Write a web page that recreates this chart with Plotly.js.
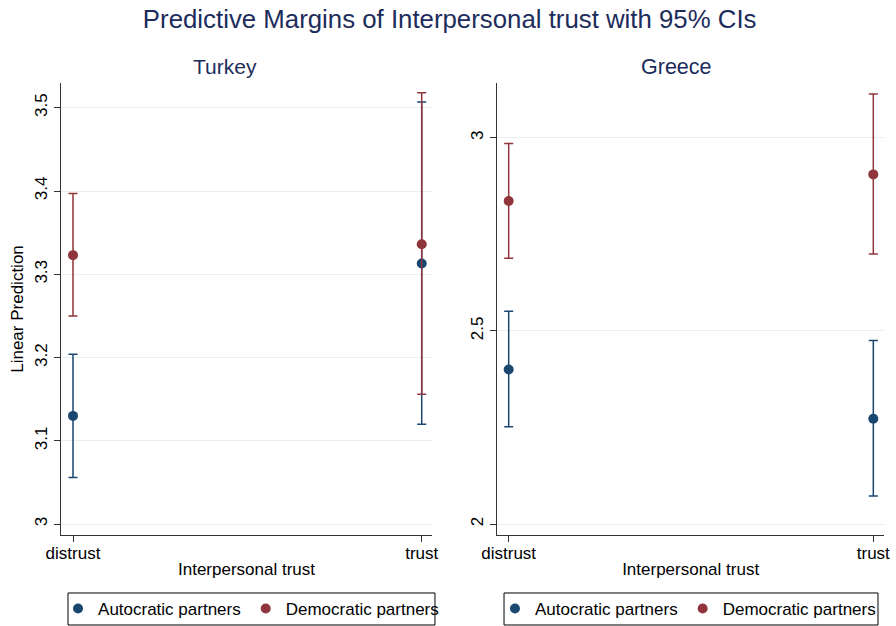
<!DOCTYPE html>
<html>
<head>
<meta charset="utf-8">
<script src="https://cdn.plot.ly/plotly-3.0.1.min.js"></script>
<style>html,body{margin:0;padding:0;background:#fff;}#chart{width:896px;height:626px;}</style>
</head>
<body>
<div id="chart"></div>
<script>
// Categories (x axis)
const categories = ["distrust", "trust"];
const xPos = [0, 1];
const seriesNames = ["Autocratic partners", "Democratic partners"];

// Turkey
const turkeyAutoMean  = [3.130, 3.313];
const turkeyAutoLower = [3.056, 3.120];
const turkeyAutoUpper = [3.204, 3.507];
const turkeyDemMean   = [3.323, 3.336];
const turkeyDemLower  = [3.250, 3.156];
const turkeyDemUpper  = [3.397, 3.518];

// Greece
const greeceAutoMean  = [2.400, 2.273];
const greeceAutoLower = [2.252, 2.073];
const greeceAutoUpper = [2.551, 2.475];
const greeceDemMean   = [2.836, 2.905];
const greeceDemLower  = [2.688, 2.699];
const greeceDemUpper  = [2.985, 3.113];

// Tick values
const turkeyTicks = [3, 3.1, 3.2, 3.3, 3.4, 3.5];
const turkeyTickText = ["3", "3.1", "3.2", "3.3", "3.4", "3.5"];
const greeceTicks = [2, 2.5, 3];
const greeceTickText = ["2", "2.5", "3"];

const NAVY = "#1a476f";
const MAROON = "#90353b";
const TITLE_COLOR = "#1c2c5b";
const FONT = "Liberation Sans, Arial, sans-serif";

function mk(mean, lo, hi, name, color, xa, ya, legend) {
  return {
    type: "scatter", mode: "markers",
    x: xPos, y: mean, name: name,
    xaxis: xa, yaxis: ya, legend: legend,
    marker: {color: color, size: 10},
    error_y: {
      type: "data", symmetric: false,
      array: hi.map((v, i) => v - mean[i]),
      arrayminus: mean.map((v, i) => v - lo[i]),
      color: color, thickness: 1.5, width: 4.5
    },
    hoverinfo: "x+y"
  };
}

const data = [
  mk(turkeyAutoMean, turkeyAutoLower, turkeyAutoUpper, seriesNames[0], NAVY, "x", "y", "legend"),
  mk(turkeyDemMean, turkeyDemLower, turkeyDemUpper, seriesNames[1], MAROON, "x", "y", "legend"),
  mk(greeceAutoMean, greeceAutoLower, greeceAutoUpper, seriesNames[0], NAVY, "x2", "y2", "legend2"),
  mk(greeceDemMean, greeceDemLower, greeceDemUpper, seriesNames[1], MAROON, "x2", "y2", "legend2")
];

const axisCommon = {
  showline: true, linecolor: "#333", linewidth: 1, mirror: false,
  ticks: "outside", ticklen: 6, tickcolor: "#333", tickwidth: 1,
  zeroline: false, automargin: false,
  tickfont: {family: FONT, size: 17, color: "#000"}
};

const legendCommon = {
  orientation: "h", xanchor: "left", y: -0.1637, yanchor: "middle",
  borderwidth: 0, bgcolor: "rgba(0,0,0,0)",
  font: {family: FONT, size: 17, color: "#000"}
};

const layout = {
  width: 896, height: 626,
  paper_bgcolor: "#fff", plot_bgcolor: "#fff",
  font: {family: FONT, size: 17, color: "#000"},
  margin: {l: 61, r: 12, t: 83, b: 91, autoexpand: false},
  title: {
    text: "Predictive Margins of Interpersonal trust with 95% CIs",
    font: {family: FONT, size: 25.8, color: TITLE_COLOR},
    x: 449.7 / 896, xref: "container", xanchor: "center", y: 1 - 18.5 / 626, yref: "container", yanchor: "middle"
  },
  xaxis: Object.assign({}, axisCommon, {
    domain: [0, 0.4508], range: [-0.0344, 1.0295],
    tickvals: xPos, ticktext: categories, showgrid: false, ticklabelstandoff: -3,
    title: {text: "Interpersonal trust", font: {family: FONT, size: 17, color: "#000"}, standoff: 0}
  }),
  yaxis: Object.assign({}, axisCommon, {
    domain: [0, 1], range: [2.987, 3.5297],
    tickvals: turkeyTicks, ticktext: turkeyTickText, tickangle: -90,
    showgrid: true, gridcolor: "#e6eff1", gridwidth: 1,
    title: {text: "Linear Prediction", font: {family: FONT, size: 17, color: "#000"}, standoff: 4}
  }),
  xaxis2: Object.assign({}, axisCommon, {
    domain: [0.5301, 1], range: [-0.0313, 1.0293], anchor: "y2",
    tickvals: xPos, ticktext: categories, showgrid: false, ticklabelstandoff: -3,
    title: {text: "Interpersonal trust", font: {family: FONT, size: 17, color: "#000"}, standoff: 0}
  }),
  yaxis2: Object.assign({}, axisCommon, {
    domain: [0, 1], range: [1.972, 3.1415], anchor: "x2",
    tickvals: greeceTicks, ticktext: greeceTickText, tickangle: -90,
    showgrid: true, gridcolor: "#e6eff1", gridwidth: 1
  }),
  legend: Object.assign({}, legendCommon, {x: -0.0036}),
  legend2: Object.assign({}, legendCommon, {x: 0.5273}),
  shapes: [
    {type: "rect", xref: "paper", yref: "paper", x0: 0.0085, x1: 0.4544, y0: -0.1283, y1: -0.1991,
     line: {color: "#000", width: 1}, fillcolor: "rgba(0,0,0,0)", layer: "below"},
    {type: "rect", xref: "paper", yref: "paper", x0: 0.5383, x1: 0.9927, y0: -0.1283, y1: -0.1991,
     line: {color: "#000", width: 1}, fillcolor: "rgba(0,0,0,0)", layer: "below"}
  ],
  annotations: [
    {text: "Turkey", xref: "paper", yref: "paper", x: (225.3 - 61) / 823, y: (535 - 67) / 452,
     xanchor: "center", yanchor: "middle", showarrow: false,
     font: {family: FONT, size: 21, color: TITLE_COLOR}},
    {text: "Greece", xref: "paper", yref: "paper", x: (676 - 61) / 823, y: (535 - 67) / 452,
     xanchor: "center", yanchor: "middle", showarrow: false,
     font: {family: FONT, size: 21.5, color: TITLE_COLOR}}
  ],
  showlegend: true
};

Plotly.newPlot("chart", data, layout, {displayModeBar: false, responsive: false});
</script>
</body>
</html>
